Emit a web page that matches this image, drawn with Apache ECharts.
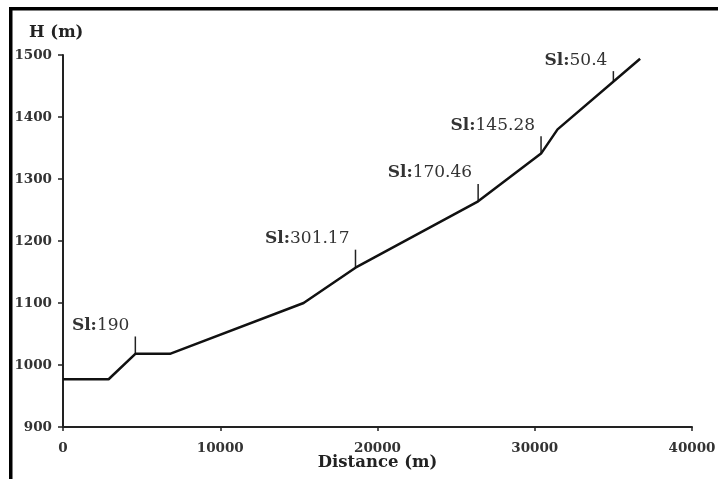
<!DOCTYPE html>
<html>
<head>
<meta charset="utf-8">
<script src="https://cdn.jsdelivr.net/npm/echarts@6/dist/echarts.min.js"></script>
<style>
  html, body { margin: 0; padding: 0; background: #fff; }
  #chart { width: 718px; height: 479px; }
</style>
</head>
<body>
<div id="chart"></div>
<script>
// profile
const distance = [0, 2900, 4600, 6800, 15300, 18600, 26400, 30400, 31450, 36700]
const height = [977, 977, 1018, 1018, 1100, 1157, 1264, 1341, 1380, 1494]

// slope markers: where they sit, how high the tick goes, and the label
const slDistance = [4600, 18600, 26400, 30400, 35000]
const slBase = [1018, 1157, 1264, 1341, 1458]
const slTop = [1046, 1186, 1292, 1369, 1474]
const slLabel = ['190', '301.17', '170.46', '145.28', '50.4']

const font = 'DejaVu Serif'

const chart = echarts.init(document.getElementById('chart'))

chart.setOption({
  animation: false,
  backgroundColor: '#fff',
  title: {
    text: 'H (m)',
    left: 24,
    top: 19,
    textStyle: { fontFamily: font, fontWeight: 'bold', fontSize: 16.5, color: '#222' }
  },
  grid: { left: 63, right: 26, top: 55, bottom: 52, outerBoundsMode: 'none' },
  xAxis: {
    type: 'value',
    min: 0,
    max: 40000,
    interval: 10000,
    name: 'Distance (m)',
    nameLocation: 'middle',
    nameGap: 27,
    nameMoveOverlap: false,
    nameTextStyle: { fontFamily: font, fontWeight: 'bold', fontSize: 16.5, color: '#222' },
    splitLine: { show: false },
    axisLine: { lineStyle: { color: '#222', width: 2 } },
    axisTick: { length: 4, lineStyle: { color: '#222', width: 1.5 } },
    axisLabel: {
      fontFamily: font, fontWeight: 'bold', fontSize: 13.5, color: '#333', margin: 14,
      formatter: v => String(v)
    }
  },
  yAxis: {
    type: 'value',
    min: 900,
    max: 1500,
    interval: 100,
    splitLine: { show: false },
    axisLine: { show: true, lineStyle: { color: '#222', width: 2 } },
    axisTick: { show: true, length: 5, lineStyle: { color: '#222', width: 1.5 } },
    axisLabel: {
      fontFamily: font, fontWeight: 'bold', fontSize: 13.5, color: '#333', margin: 11,
      formatter: v => String(v)
    }
  },
  graphic: [
    { type: 'rect', left: 9, top: 7, shape: { width: 709, height: 3.5 }, style: { fill: '#000' } },
    { type: 'rect', left: 9, top: 7, shape: { width: 3.5, height: 472 }, style: { fill: '#000' } }
  ],
  series: [
    {
      type: 'line',
      data: distance.map((d, i) => [d, height[i]]),
      symbol: 'none',
      lineStyle: { color: '#111', width: 2.5 }
    },
    {
      type: 'custom',
      data: slDistance.map((d, i) => [d, slBase[i], slTop[i]]),
      renderItem(params, api) {
        const p0 = api.coord([api.value(0), api.value(1)])
        const p1 = api.coord([api.value(0), api.value(2)])
        return {
          type: 'group',
          children: [
            {
              type: 'line',
              shape: { x1: p0[0], y1: p0[1], x2: p1[0], y2: p1[1] },
              style: { stroke: '#222', lineWidth: 1.5 }
            },
            {
              type: 'text',
              x: p1[0] - 6,
              y: p1[1] - 11,
              style: {
                text: '{b|Sl:}{n|' + slLabel[params.dataIndex] + '}',
                align: 'right',
                verticalAlign: 'middle',
                rich: {
                  b: { fontFamily: font, fontWeight: 'bold', fontSize: 17, fill: '#333' },
                  n: { fontFamily: font, fontSize: 17, fill: '#333' }
                }
              }
            }
          ]
        }
      }
    }
  ]
})
</script>
</body>
</html>
